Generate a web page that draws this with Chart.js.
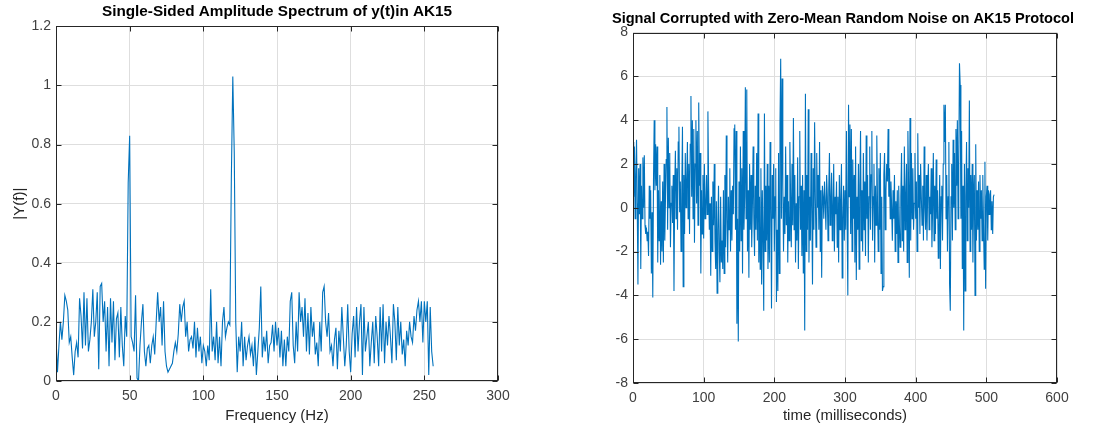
<!DOCTYPE html>
<html>
<head>
<meta charset="utf-8">
<title>AK15 spectrum and noisy signal</title>
<script src="https://cdn.jsdelivr.net/npm/chart.js@4.4.1/dist/chart.umd.min.js"></script>
<style>
  html, body { margin: 0; padding: 0; background: #fff; }
  body { width: 1103px; height: 427px; position: relative; overflow: hidden; }
  canvas { position: absolute; top: 0; }
  #spec { left: 0; }
  #sig { left: 600px; }
</style>
</head>
<body>
<canvas id="spec" width="554" height="427"></canvas>
<canvas id="sig" width="486" height="427"></canvas>
<script>
const FONT = "'Liberation Sans', Arial, Helvetica, sans-serif";
const LINE = "#0072bd";
const AXIS = "#262626";
const GRID = "#dedede";
const TICK_TXT = "#404040";

// |Y(f)|, one bin per Hz, 0..256 Hz
const specAmp = [
  0.15, 0.03, 0.12, 0.20, 0.14, 0.20, 0.29, 0.27, 0.24, 0.13, 0.15, 0.08, 0.02, 0.10, 0.13, 0.08,
  0.28, 0.22, 0.11, 0.30, 0.12, 0.28, 0.10, 0.14, 0.20, 0.31, 0.15, 0.20, 0.30, 0.04, 0.32, 0.33,
  0.20, 0.27, 0.10, 0.25, 0.05, 0.28, 0.13, 0.27, 0.07, 0.21, 0.23, 0.08, 0.25, 0.12, 0.05, 0.22,
  0.15, 0.67, 0.83, 0.15, 0.13, 0.10, 0.29, 0.01, 0.00, 0.12, 0.20, 0.26, 0.10, 0.05, 0.11, 0.12,
  0.06, 0.12, 0.15, 0.09, 0.20, 0.30, 0.20, 0.25, 0.12, 0.27, 0.10, 0.05, 0.03, 0.04, 0.05, 0.06,
  0.10, 0.13, 0.10, 0.16, 0.26, 0.20, 0.25, 0.27, 0.15, 0.20, 0.10, 0.14, 0.15, 0.11, 0.20, 0.08,
  0.18, 0.10, 0.15, 0.06, 0.12, 0.10, 0.05, 0.12, 0.07, 0.31, 0.10, 0.15, 0.07, 0.20, 0.06, 0.15,
  0.05, 0.20, 0.25, 0.15, 0.18, 0.20, 0.19, 0.68, 1.03, 0.77, 0.20, 0.03, 0.15, 0.10, 0.20, 0.05,
  0.15, 0.07, 0.12, 0.15, 0.09, 0.12, 0.05, 0.15, 0.02, 0.10, 0.18, 0.32, 0.08, 0.15, 0.10, 0.17,
  0.06, 0.12, 0.13, 0.19, 0.10, 0.20, 0.12, 0.18, 0.08, 0.17, 0.05, 0.14, 0.05, 0.15, 0.10, 0.27,
  0.30, 0.12, 0.06, 0.20, 0.10, 0.30, 0.20, 0.25, 0.15, 0.28, 0.10, 0.23, 0.09, 0.25, 0.15, 0.20,
  0.09, 0.13, 0.05, 0.20, 0.10, 0.30, 0.32, 0.20, 0.15, 0.23, 0.10, 0.12, 0.05, 0.14, 0.18, 0.04,
  0.17, 0.10, 0.25, 0.15, 0.05, 0.12, 0.26, 0.10, 0.03, 0.16, 0.22, 0.08, 0.25, 0.10, 0.20, 0.26,
  0.02, 0.25, 0.10, 0.15, 0.20, 0.05, 0.13, 0.20, 0.06, 0.22, 0.15, 0.05, 0.25, 0.10, 0.26, 0.06,
  0.20, 0.12, 0.22, 0.15, 0.06, 0.26, 0.20, 0.07, 0.25, 0.12, 0.20, 0.09, 0.14, 0.05, 0.17, 0.12,
  0.20, 0.15, 0.13, 0.22, 0.17, 0.24, 0.27, 0.20, 0.27, 0.13, 0.27, 0.20, 0.27, 0.02, 0.25, 0.10,
  0.05
];

// noisy signal, one sample per ms, 0..511 ms
const noisySignal = [
  3.0, 0.5, 2.8, -0.5, 1.5, 3.1, 0.2, -3.5, 1.8, -0.3, 2.0, -2.8, 1.0, -0.5, 2.3, 0.0,
  2.4, -0.8, -1.2, -0.9, -1.5, -1.1, -2.2, 1.0, -0.5, 0.8, -3.0, -0.2, -4.1, 1.2, 4.0, 0.8,
  2.9, 1.0, 2.8, -2.5, 0.8, -1.5, 1.5, -2.6, 0.3, -2.0, 1.2, -2.5, 2.0, -1.5, 0.5, 2.2,
  4.6, -1.0, 3.2, 0.0, 2.5, -1.8, 0.2, 1.0, -0.7, 1.5, -3.8, 0.8, 2.6, -0.5, 1.8, -1.0,
  3.0, 3.7, -0.2, 1.2, -2.0, 0.6, 3.7, -3.6, 1.5, -1.2, 2.5, 0.0, 1.2, 3.0, -0.5, 2.0,
  -1.2, 2.9, 5.1, 0.5, 4.0, -0.5, 3.6, -1.6, 2.0, 4.0, 0.2, 3.5, -0.8, 4.8, 1.0, 2.5,
  -3.0, 0.8, -1.2, 1.5, -1.4, 2.0, -0.5, 0.0, 1.5, -0.3, 4.4, 1.0, -1.0, 0.2, -3.1, 0.5,
  -2.0, 1.2, -0.8, 2.0, -1.5, -2.8, 0.3, -3.9, -1.0, 1.0, -2.0, -3.4, 0.5, -2.5, -1.5, -2.8,
  0.8, -3.0, 1.5, -1.8, 3.3, -0.5, -2.5, 0.5, -1.0, 1.8, -2.0, 0.8, -1.5, 1.0, -0.3, 3.6,
  3.8, -1.0, 3.5, -5.3, -0.5, -6.1, 1.2, -2.0, 2.8, -1.5, 1.8, -3.0, 3.5, -1.0, 0.5, 5.5,
  -0.5, 5.4, -2.0, 0.8, -3.2, 2.0, -1.0, 1.5, -1.8, 0.2, 2.8, -0.5, -2.2, 1.0, -1.0, 2.5,
  -1.5, 4.3, -2.5, 0.5, -2.8, 1.8, -3.5, 0.8, -1.5, -4.7, 4.3, -2.0, 1.0, -1.5, 2.0, -2.8,
  1.0, -2.5, 3.0, 0.0, -4.6, 1.5, -0.5, 2.0, -2.0, 0.5, 1.8, -4.3, -1.0, -3.8, 2.5, -3.0,
  3.8, 6.8, -0.5, 5.9, 1.0, -2.0, 0.5, -1.2, 2.8, -0.8, 1.5, -2.5, 0.3, -1.5, 3.0, 0.5,
  -1.8, 2.0, -0.8, 4.1, -1.0, 1.5, -2.5, 0.2, -1.5, 2.3, -2.8, 0.5, 3.5, -1.0, 1.0, -2.2,
  1.5, -3.0, 0.8, -5.6, 5.2, -2.0, 1.5, -1.0, 4.5, -2.5, 0.5, -1.5, 2.5, 0.0, -3.5, 1.8,
  -1.0, 3.9, 0.5, -1.8, 2.5, 0.0, 1.5, -1.0, 3.0, -2.0, 0.8, -3.2, 1.0, 0.5, -0.5, 1.2,
  0.2, -1.0, 1.5, 0.5, -1.5, 0.8, 2.5, -0.8, 0.3, 1.6, -1.5, 0.0, 2.0, -2.0, 0.5, -0.3,
  1.2, -1.8, 0.5, -2.5, 1.5, -1.0, 0.3, 2.0, -3.2, -0.5, 1.0, -1.5, 0.8, -1.0, 3.5, -0.5,
  -4.0, 4.7, 0.5, 3.8, -1.2, 3.6, -2.0, 2.2, -0.5, 1.5, -2.5, 2.8, -3.3, 0.5, -1.0, 2.0,
  -2.8, 1.0, 3.5, -1.5, 0.8, -2.0, 2.5, -1.0, 1.2, -2.2, 3.3, -0.5, 1.5, -2.5, 0.5, 2.8,
  -1.0, 1.5, 3.5, -1.5, 0.5, 2.0, -2.5, 1.0, -0.8, 3.3, 0.2, -2.0, 1.8, -1.0, 2.5, -3.0,
  0.5, -3.8, -3.6, 1.5, 2.5, -1.0, 0.8, 2.0, 1.2, 3.6, 0.5, 1.8, -0.5, 1.2, 0.0, -1.5,
  0.8, -0.5, 1.5, -2.0, 0.3, -1.2, 0.8, -2.5, 1.0, -0.8, -1.8, 0.5, 2.5, -1.5, 1.0, -2.0,
  2.8, -1.0, 0.5, 2.0, -2.5, 3.5, 1.0, -3.2, 4.1, -1.5, 2.5, -0.5, 1.8, -1.0, 0.2, 2.5,
  -0.5, 1.2, -2.0, 3.4, 0.0, 1.5, -1.2, 2.0, 0.5, -0.8, 1.0, -1.5, 2.8, 0.0, -1.0, 1.5,
  -1.5, 0.8, 2.0, -1.0, 0.5, -0.3, 1.8, -1.8, 0.0, 2.5, -1.5, 1.0, -1.2, 2.2, -0.5, 0.8,
  -2.3, -1.0, 1.5, -2.8, 0.5, 1.0, -1.5, 2.0, 4.7, 3.0, 4.7, -0.5, 1.5, -2.0, 0.5, 3.0,
  -3.5, -4.7, 0.5, 2.0, -1.5, 3.1, 0.0, 2.5, -1.0, 3.6, 1.0, 4.0, -0.5, 2.0, 6.6, 5.6,
  -0.5, 3.5, -2.8, 1.0, -5.6, 2.0, -3.8, 0.5, 3.0, -1.5, 1.8, 0.0, 4.9, -2.0, 1.5, -1.0,
  2.0, -2.5, 0.5, 1.5, -4.0, 2.9, -1.5, 0.8, -1.0, 1.2, -2.0, 1.5, -0.5, 0.8, -1.5, 1.5,
  -0.8, -2.8, 2.1, -3.7, 0.5, 1.0, -1.5, 0.8, -0.3, 0.6, 0.8, -1.0, 0.3, -1.2, 0.5, 0.6
];

// axis ranges: [min, max, step]
const specX = [0, 300, 50];
const specY = [0, 1.2, 0.2];
const sigX = [0, 600, 100];
const sigY = [-8, 8, 2];

// MATLAB-like box with inward ticks on all four sides
const matlabBox = {
  id: "matlabBox",
  afterDraw(chart) {
    const { ctx, chartArea: a } = chart;
    const xs = chart.scales.x, ys = chart.scales.y;
    const L = Math.round(a.left) + 0.5, R = Math.round(a.right) - 0.5;
    const T = Math.round(a.top) + 0.5, B = Math.round(a.bottom) - 0.5;
    ctx.save();
    ctx.strokeStyle = AXIS;
    ctx.lineWidth = 1;
    ctx.beginPath();
    xs.ticks.forEach((t) => {
      const p = Math.round(xs.getPixelForValue(t.value)) + 0.5;
      ctx.moveTo(p, B); ctx.lineTo(p, B - 5);
      ctx.moveTo(p, T); ctx.lineTo(p, T + 5);
    });
    ys.ticks.forEach((t) => {
      const p = Math.round(ys.getPixelForValue(t.value)) + 0.5;
      ctx.moveTo(L, p); ctx.lineTo(L + 5, p);
      ctx.moveTo(R, p); ctx.lineTo(R - 5, p);
    });
    ctx.stroke();
    ctx.strokeRect(L, T, R - L, B - T);
    ctx.restore();
  },
};

const plainNum = (v) => String(+Number(v).toFixed(2));

function makePlot(id, o) {
  const tickFont = { family: FONT, size: 14 };
  const titleFont = { family: FONT, size: 15 };
  return new Chart(document.getElementById(id), {
    type: "line",
    data: {
      datasets: [{
        data: o.ys.map((v, i) => ({ x: i, y: v })),
        borderColor: LINE,
        borderWidth: 1.1,
        pointRadius: 0,
        tension: 0,
        fill: false,
      }],
    },
    options: {
      responsive: false,
      animation: false,
      devicePixelRatio: 1,
      events: [],
      plugins: {
        legend: { display: false },
        tooltip: { enabled: false },
        title: {
          display: true,
          text: o.title,
          color: "#000",
          font: { family: FONT, size: o.titleSize, weight: "bold" },
          padding: o.titlePad,
        },
      },
      scales: {
        x: {
          type: "linear",
          min: o.xr[0], max: o.xr[1],
          ticks: { stepSize: o.xr[2], color: TICK_TXT, font: tickFont, padding: 7, maxRotation: 0, callback: plainNum },
          grid: { color: GRID, drawTicks: false },
          border: { display: false },
          title: { display: true, text: o.xTitle, color: AXIS, font: titleFont, padding: { top: 0, bottom: 2 } },
          afterFit: (s) => { s.height = o.xH; },
        },
        y: {
          type: "linear",
          min: o.yr[0], max: o.yr[1],
          ticks: { stepSize: o.yr[2], color: TICK_TXT, font: tickFont, padding: 5, callback: plainNum },
          grid: { color: GRID, drawTicks: false },
          border: { display: false },
          title: { display: !!o.yTitle, text: o.yTitle || "", color: AXIS, font: titleFont, padding: { top: 11, bottom: 0 } },
          afterFit: (s) => { s.width = o.yW; },
        },
        y2: {
          type: "linear",
          position: "right",
          ticks: { display: false },
          grid: { display: false, drawTicks: false },
          border: { display: false },
          afterFit: (s) => { s.width = o.rW; },
        },
      },
    },
    plugins: [matlabBox],
  });
}

makePlot("spec", {
  ys: specAmp,
  title: "Single-Sided Amplitude Spectrum of y(t)in AK15",
  titleSize: 15.3,
  titlePad: { top: 3, bottom: 5 },
  xTitle: "Frequency (Hz)",
  yTitle: "|Y(f)|",
  xr: specX, yr: specY,
  xH: 46, yW: 56, rW: 56,
});

makePlot("sig", {
  ys: noisySignal,
  title: "Signal Corrupted with Zero-Mean Random Noise on AK15 Protocol",
  titleSize: 14.6,
  titlePad: { top: 10, bottom: 5 },
  xTitle: "time (milliseconds)",
  xr: sigX, yr: sigY,
  xH: 44, yW: 33, rW: 29,
});
</script>
</body>
</html>
